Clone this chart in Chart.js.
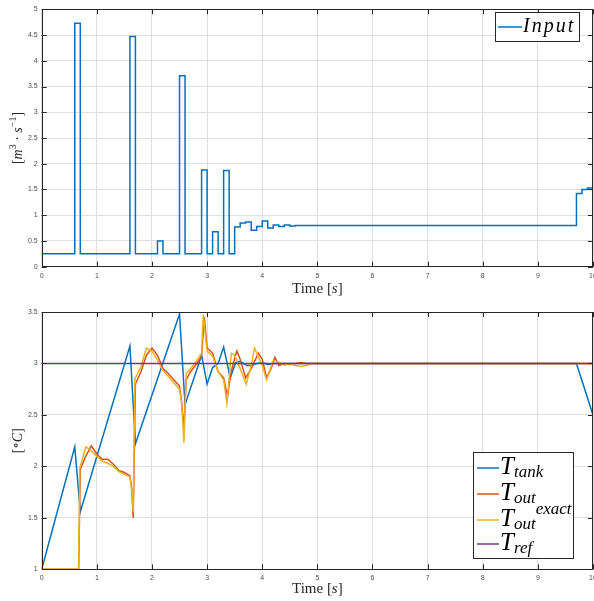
<!DOCTYPE html>
<html>
<head>
<meta charset="utf-8">
<script src="https://cdn.jsdelivr.net/npm/chart.js@4.4.1/dist/chart.umd.min.js"></script>
<style>
  html, body { margin: 0; padding: 0; background: #fff; }
  #wrap { position: relative; width: 594px; height: 601px; }
  canvas { position: absolute; left: 0; }
  #inputChart { top: 0; }
  #tempChart { top: 300px; }
</style>
</head>
<body>
<div id="wrap">
  <canvas id="inputChart" width="594" height="300" style="width:594px;height:300px"></canvas>
  <canvas id="tempChart" width="594" height="301" style="width:594px;height:301px"></canvas>
</div>
<script>
// ---- данные ----
const timeTicks = [0, 1, 2, 3, 4, 5, 6, 7, 8, 9, 10];
const inputTicks = [0, 0.5, 1, 1.5, 2, 2.5, 3, 3.5, 4, 4.5, 5];
const tempTicks = [1, 1.5, 2, 2.5, 3, 3.5];

// входной сигнал (ступенчатый), моменты переключения
const inputTimes = [0, 0.6, 0.7, 1.6, 1.7, 2.1, 2.2, 2.5, 2.6, 2.9, 3.0, 3.1, 3.2, 3.3, 3.4, 3.5, 3.6, 3.7, 3.8, 3.9, 4.0, 4.1, 4.2, 4.3, 4.4, 4.5, 4.6, 9.7, 9.8, 9.9, 10];
const inputValues = [0.25, 4.73, 0.25, 4.47, 0.25, 0.5, 0.25, 3.71, 0.25, 1.88, 0.25, 0.68, 0.25, 1.87, 0.25, 0.77, 0.85, 0.87, 0.71, 0.78, 0.89, 0.75, 0.81, 0.78, 0.81, 0.79, 0.80, 1.42, 1.50, 1.53, 1.53];

// T_tank
const tankTimes = [0, 0.6, 0.7, 1.6, 1.7, 2.5, 2.6, 2.9, 3.0, 3.1, 3.2, 3.3, 3.42, 3.52, 3.6, 3.72, 3.8, 3.9, 4.0, 4.1, 4.2, 4.3, 4.5, 9.7, 10];
const tankValues = [1, 2.19, 1.56, 3.17, 2.22, 3.48, 2.6, 3.08, 2.8, 2.96, 3.0, 3.16, 2.86, 3.01, 3.02, 2.98, 2.98, 3.0, 3.01, 2.99, 3.0, 3.0, 3.0, 3.0, 2.5];

// T_out
const outTimes = [0, 0.67, 0.7, 0.8, 0.9, 1.0, 1.1, 1.2, 1.3, 1.4, 1.5, 1.6, 1.63, 1.66, 1.7, 1.8, 1.9, 2.0, 2.1, 2.2, 2.3, 2.4, 2.5, 2.54, 2.58, 2.62, 2.7, 2.8, 2.9, 2.95, 3.0, 3.1, 3.2, 3.3, 3.37, 3.43, 3.5, 3.54, 3.6, 3.7, 3.8, 3.93, 4.0, 4.08, 4.16, 4.23, 4.3, 4.4, 4.5, 4.6, 4.7, 4.8, 5.0, 10];
const outValues = [1, 1, 1.97, 2.1, 2.2, 2.12, 2.07, 2.07, 2.02, 1.96, 1.94, 1.91, 1.8, 1.5, 2.8, 2.92, 3.08, 3.15, 3.08, 2.95, 2.9, 2.84, 2.78, 2.62, 2.35, 2.84, 2.92, 2.99, 3.07, 3.45, 3.15, 3.1, 2.92, 2.86, 2.68, 2.9, 3.05, 3.12, 3.04, 2.86, 2.95, 3.1, 3.04, 2.86, 2.95, 3.06, 2.98, 3.0, 2.99, 3.0, 3.01, 3.0, 3.0, 3.0];

// T_out^exact
const exactTimes = [0, 0.67, 0.69, 0.8, 0.9, 1.0, 1.1, 1.2, 1.3, 1.4, 1.5, 1.6, 1.63, 1.66, 1.69, 1.8, 1.9, 2.0, 2.1, 2.2, 2.3, 2.4, 2.5, 2.54, 2.58, 2.62, 2.7, 2.8, 2.9, 2.93, 3.0, 3.1, 3.2, 3.3, 3.36, 3.44, 3.5, 3.6, 3.71, 3.8, 3.86, 4.0, 4.08, 4.2, 4.3, 4.4, 4.5, 4.6, 4.7, 4.8, 4.9, 5.0, 10];
const exactValues = [1, 1, 1.98, 2.19, 2.15, 2.1, 2.05, 2.03, 2.0, 1.95, 1.92, 1.9, 1.78, 1.56, 2.85, 2.97, 3.15, 3.12, 3.03, 2.93, 2.87, 2.81, 2.75, 2.6, 2.23, 2.9, 2.95, 3.02, 3.1, 3.47, 3.12, 3.07, 2.92, 2.84, 2.61, 3.1, 3.08, 2.95, 2.8, 2.98, 3.15, 2.98, 2.84, 3.03, 3.01, 2.98, 3.0, 2.98, 2.97, 2.98, 3.0, 3.0, 3.0];

// T_ref
const refTimes = [0, 10];
const refValues = [3, 3];

const BLUE = '#0072BD', RED = '#D95319', YELLOW = '#EDB120', PURPLE = '#7E2F8E';
const SERIF = '"Liberation Serif", "DejaVu Serif", serif';

const toPoints = (ts, vs) => ts.map((t, i) => ({ x: t, y: vs[i] }));

// рисует строку из кусков разного шрифта (индексы/степени)
function drawRuns(ctx, runs, x, y, center) {
    let total = 0;
    runs.forEach(r => { ctx.font = r.font; total += ctx.measureText(r.text).width; });
    let cx = center ? x - total / 2 : x;
    runs.forEach(r => {
        ctx.font = r.font;
        ctx.fillText(r.text, cx, y + (r.dy || 0));
        cx += ctx.measureText(r.text).width;
    });
}

// рамка и засечки внутрь, как в MATLAB
function drawBox(chart) {
    const { ctx, chartArea: a, scales: { x, y } } = chart;
    ctx.save();
    ctx.strokeStyle = '#262626';
    ctx.lineWidth = 1;
    ctx.beginPath();
    x.ticks.forEach(t => {
        const px = Math.round(x.getPixelForValue(t.value)) + 0.5;
        ctx.moveTo(px, a.bottom); ctx.lineTo(px, a.bottom - 5);
        ctx.moveTo(px, a.top); ctx.lineTo(px, a.top + 5);
    });
    y.ticks.forEach(t => {
        const py = Math.round(y.getPixelForValue(t.value)) + 0.5;
        ctx.moveTo(a.left, py); ctx.lineTo(a.left + 5, py);
        ctx.moveTo(a.right, py); ctx.lineTo(a.right - 5, py);
    });
    ctx.stroke();
    ctx.strokeRect(Math.round(a.left) + 0.5, Math.round(a.top) + 0.5, Math.round(a.right - a.left) - 1, Math.round(a.bottom - a.top));
    ctx.restore();
}

function drawXTitle(chart, yPos) {
    const { ctx, chartArea: a } = chart;
    ctx.save();
    ctx.fillStyle = '#262626';
    ctx.textBaseline = 'middle';
    drawRuns(ctx, [
        { text: 'Time [', font: '15px ' + SERIF },
        { text: 's', font: 'italic 15px ' + SERIF },
        { text: ']', font: '15px ' + SERIF }
    ], (a.left + a.right) / 2, yPos, true);
    ctx.restore();
}

function drawYTitle(chart, runs) {
    const { ctx, chartArea: a } = chart;
    ctx.save();
    ctx.fillStyle = '#262626';
    ctx.textBaseline = 'middle';
    ctx.translate(18, (a.top + a.bottom) / 2);
    ctx.rotate(-Math.PI / 2);
    drawRuns(ctx, runs, 0, 0, true);
    ctx.restore();
}

function legendBox(ctx, x, y, w, h) {
    ctx.fillStyle = '#fff';
    ctx.fillRect(x, y, w, h);
    ctx.strokeStyle = '#262626';
    ctx.lineWidth = 1;
    ctx.strokeRect(x + 0.5, y + 0.5, w, h);
}

function legendLine(ctx, color, x1, x2, y) {
    ctx.strokeStyle = color;
    ctx.lineWidth = 1.5;
    ctx.beginPath();
    ctx.moveTo(x1, y); ctx.lineTo(x2, y);
    ctx.stroke();
}

const inputDecor = {
    id: 'inputDecor',
    afterDraw(chart) {
        const ctx = chart.ctx;
        drawBox(chart);
        drawXTitle(chart, 289);
        drawYTitle(chart, [
            { text: '[', font: '14px ' + SERIF },
            { text: 'm', font: 'italic 14px ' + SERIF },
            { text: '3', font: '10px ' + SERIF, dy: -5 },
            { text: ' · ', font: '14px ' + SERIF },
            { text: 's', font: 'italic 14px ' + SERIF },
            { text: '−1', font: '10px ' + SERIF, dy: -5 },
            { text: ']', font: '14px ' + SERIF }
        ]);
        ctx.save();
        legendBox(ctx, 495, 12, 84, 29);
        legendLine(ctx, BLUE, 498, 522, 27);
        ctx.fillStyle = '#000';
        ctx.textBaseline = 'alphabetic';
        ctx.font = 'italic 20px ' + SERIF;
        ctx.letterSpacing = '2px';
        ctx.fillText('Input', 523, 32);
        ctx.restore();
    }
};

const tempDecor = {
    id: 'tempDecor',
    afterDraw(chart) {
        const ctx = chart.ctx;
        drawBox(chart);
        drawXTitle(chart, 289);
        drawYTitle(chart, [
            { text: '[', font: '14px ' + SERIF },
            { text: '∘', font: '13px "DejaVu Serif", serif', dy: -1 },
            { text: 'C', font: 'italic 14px ' + SERIF },
            { text: ']', font: '14px ' + SERIF }
        ]);
        ctx.save();
        legendBox(ctx, 473, 152, 100, 106);
        const big = 'italic 25px ' + SERIF, small = 'italic 17px ' + SERIF;
        const entries = [
            { color: BLUE, base: 174, runs: [{ text: 'T', font: big }, { text: 'tank', font: small, dy: 3 }] },
            { color: RED, base: 200, runs: [{ text: 'T', font: big }, { text: 'out', font: small, dy: 3 }] },
            { color: YELLOW, base: 226, runs: [{ text: 'T', font: big }, { text: 'out', font: small, dy: 3 }, { text: 'exact', font: small, dy: -12 }] },
            { color: PURPLE, base: 250, runs: [{ text: 'T', font: big }, { text: 'ref', font: small, dy: 3 }] }
        ];
        entries.forEach(e => {
            legendLine(ctx, e.color, 477, 499, e.base - 6);
            ctx.fillStyle = '#000';
            ctx.textBaseline = 'alphabetic';
            drawRuns(ctx, e.runs, 500, e.base, false);
        });
        ctx.restore();
    }
};

function scalesFor(yTicks, yMin, yMax, yWidth, xHeight) {
    const tickFont = { family: '"Liberation Sans", Arial, sans-serif', size: 7 };
    const fmt = v => String(v);
    return {
        x: {
            type: 'linear', min: 0, max: 10,
            afterBuildTicks: s => { s.ticks = timeTicks.map(v => ({ value: v })); },
            afterFit: s => { s.height = xHeight; s.paddingLeft = 0; s.paddingRight = 0; },
            grid: { color: '#dfdfdf', lineWidth: 1, drawTicks: false },
            border: { display: false },
            ticks: { font: tickFont, color: '#4d4d4d', padding: 5, maxRotation: 0, autoSkip: false, callback: fmt }
        },
        y: {
            type: 'linear', min: yMin, max: yMax,
            afterBuildTicks: s => { s.ticks = yTicks.map(v => ({ value: v })); },
            afterFit: s => { s.width = yWidth; s.paddingTop = 0; s.paddingBottom = 0; },
            grid: { color: '#dfdfdf', lineWidth: 1, drawTicks: false },
            border: { display: false },
            ticks: { font: tickFont, color: '#4d4d4d', padding: 4, autoSkip: false, callback: fmt }
        }
    };
}

const baseOptions = {
    responsive: false,
    animation: false,
    devicePixelRatio: 1,
    plugins: { legend: { display: false }, tooltip: { enabled: false } },
    elements: { point: { radius: 0 }, line: { borderWidth: 1.5, tension: 0 } }
};

new Chart(document.getElementById('inputChart').getContext('2d'), {
    type: 'line',
    data: {
        datasets: [{
            label: 'Input',
            data: toPoints(inputTimes, inputValues),
            borderColor: BLUE,
            stepped: true,
            fill: false
        }]
    },
    options: {
        ...baseOptions,
        layout: { padding: { top: 9.3, right: 1, bottom: 0, left: 0 } },
        scales: scalesFor(inputTicks, 0, 5, 41.7, 33.3)
    },
    plugins: [inputDecor]
});

new Chart(document.getElementById('tempChart').getContext('2d'), {
    type: 'line',
    data: {
        datasets: [
            { label: 'T_tank', data: toPoints(tankTimes, tankValues), borderColor: BLUE, order: 3 },
            { label: 'T_out', data: toPoints(outTimes, outValues), borderColor: RED, order: 2 },
            { label: 'T_out^exact', data: toPoints(exactTimes, exactValues), borderColor: YELLOW, order: 1 },
            { label: 'T_ref', data: toPoints(refTimes, refValues), borderColor: PURPLE, order: 0 }
        ]
    },
    options: {
        ...baseOptions,
        layout: { padding: { top: 12, right: 1, bottom: 0, left: 0 } },
        scales: scalesFor(tempTicks, 1, 3.5, 41.7, 31.7)
    },
    plugins: [tempDecor]
});
</script>
</body>
</html>
